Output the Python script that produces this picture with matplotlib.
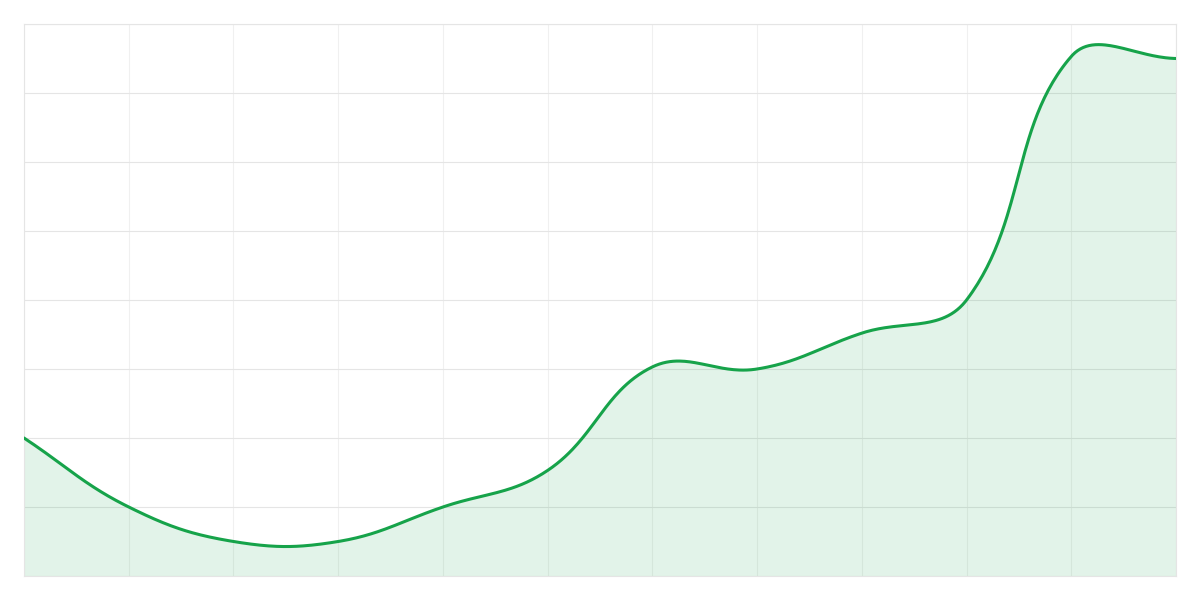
import numpy as np
import matplotlib
matplotlib.use('Agg')
import matplotlib.pyplot as plt

# values (y axis 0..80, one point per vertical grid line)
x_idx = list(range(12))
values = [20, 10, 5, 5, 10, 15.3, 30.3, 30, 35.2, 40, 75.3, 75]

line_color = '#16a34a'
tension = 0.4

fig = plt.figure(figsize=(12, 6), dpi=100)
ax = fig.add_axes([0.02, 0.04, 0.96, 0.92])
ax.set_xlim(0, 11)
ax.set_ylim(0, 80)


def spline_points(xs, ys, t):
    # chart.js style bezier through the points, distances measured in pixels
    to_px = ax.transData.transform
    px = to_px(np.column_stack([xs, ys]))
    n = len(px)
    cps = []
    for i in range(n):
        prev = px[max(i - 1, 0)]
        cur = px[i]
        nxt = px[min(i + 1, n - 1)]
        d01 = np.hypot(*(cur - prev))
        d12 = np.hypot(*(nxt - cur))
        tot = d01 + d12
        s01 = d01 / tot if tot else 0
        s12 = d12 / tot if tot else 0
        fa, fb = t * s01, t * s12
        c_prev = cur - fa * (nxt - prev)
        c_next = cur + fb * (nxt - prev)
        cps.append((c_prev, c_next))
    # clamp to plotting area
    bb = ax.bbox
    out = []
    tt = np.linspace(0, 1, 60)[:, None]
    for i in range(n - 1):
        p0 = px[i]
        p3 = px[i + 1]
        p1 = np.clip(cps[i][1], [bb.x0, bb.y0], [bb.x1, bb.y1])
        p2 = np.clip(cps[i + 1][0], [bb.x0, bb.y0], [bb.x1, bb.y1])
        seg = ((1 - tt) ** 3 * p0 + 3 * (1 - tt) ** 2 * tt * p1
               + 3 * (1 - tt) * tt ** 2 * p2 + tt ** 3 * p3)
        out.append(seg if i == 0 else seg[1:])
    pts = ax.transData.inverted().transform(np.vstack(out))
    return pts[:, 0], pts[:, 1]


sx, sy = spline_points(np.array(x_idx, float), np.array(values, float), tension)

ax.fill_between(sx, sy, 0, color=line_color, alpha=0.12, linewidth=0, zorder=1)
ax.plot(sx, sy, color=line_color, linewidth=2.2, solid_capstyle='round', zorder=3)

ax.set_xticks(x_idx)
ax.set_yticks(range(0, 81, 10))
ax.grid(axis='y', color='#e5e5e5', linewidth=0.8, zorder=0)
ax.grid(axis='x', color='#f0f0f0', linewidth=0.8, zorder=0)
ax.tick_params(length=0, labelbottom=False, labelleft=False)
for side in ['top', 'right', 'left', 'bottom']:
    ax.spines[side].set_color('#e5e5e5')
    ax.spines[side].set_linewidth(0.8)
ax.set_axisbelow(True)

fig.savefig('out.png', dpi=100, facecolor='white')
